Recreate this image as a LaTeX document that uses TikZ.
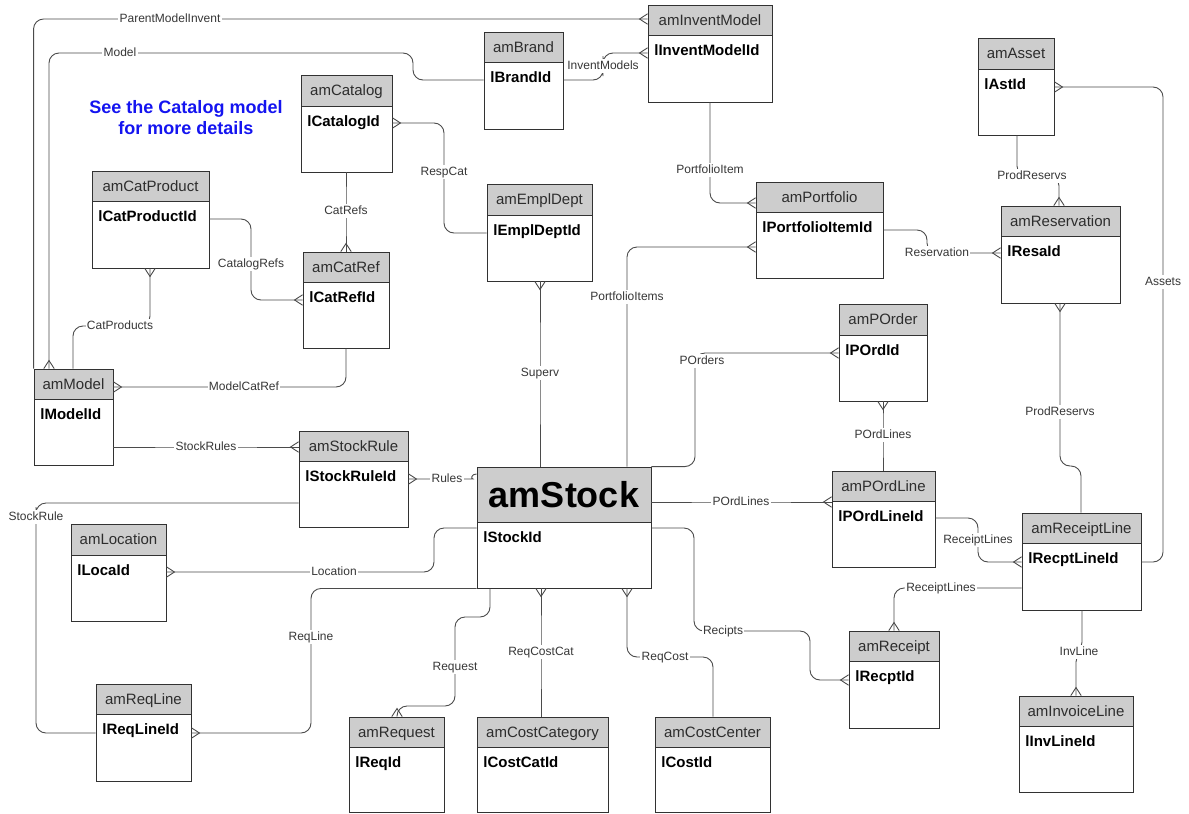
\documentclass[tikz,border=0pt]{standalone}
\usepackage{fontspec}
\setmainfont{Liberation Sans}
\usetikzlibrary{fit}
\definecolor{hdr}{RGB}{205,205,205}
\definecolor{boxc}{RGB}{50,50,50}
\definecolor{lnc}{RGB}{75,75,75}
\definecolor{lblc}{RGB}{55,55,55}
\definecolor{ttlc}{RGB}{45,45,45}
\definecolor{bluetxt}{RGB}{20,20,240}
\pgfdeclarearrow{
  name = Crow,
  setup code = {
    \pgfarrowssettipend{0pt}
    \pgfarrowssetlineend{0pt}
    \pgfarrowssetbackend{-4pt}
    \pgfarrowssetvisualbackend{-4pt}
    \pgfarrowshullpoint{0pt}{2.6pt}
    \pgfarrowshullpoint{0pt}{-2.6pt}
    \pgfarrowshullpoint{-4pt}{0pt}
  },
  drawing code = {
    \pgfpathmoveto{\pgfpoint{0pt}{2.6pt}}
    \pgfpathlineto{\pgfpoint{-4pt}{0pt}}
    \pgfpathlineto{\pgfpoint{0pt}{-2.6pt}}
    \pgfusepathqstroke
  }
}
\tikzset{
  ttl/.style={inner sep=0pt, text=ttlc, font=\fontsize{7.5}{9}\selectfont, text height=5.4pt, text depth=0pt},
  fld/.style={anchor=west, inner sep=0pt, text=black, font=\fontsize{7.5}{9}\selectfont\bfseries, text height=5.4pt, text depth=0pt},
  conn/.style={draw=lnc, line width=0.45pt, rounded corners=5pt},
  lbl/.style={fill=white, text=lblc, font=\fontsize{6}{7}\selectfont, inner xsep=0.6pt, inner ysep=0.6pt, text height=4.4pt, text depth=1.2pt, rounded corners=0pt}
}
\newcommand\ent[8][]{%
  \fill[hdr] (#3,#4) rectangle (#5,#7);
  \draw[boxc, line width=0.45pt] (#3,#7) -- (#5,#7);
  \node[fit={(#3,#4) (#5,#6)}, inner sep=0pt, draw=boxc, line width=0.45pt] (#2) {};
  \node[ttl,#1] (#2-t) at ({(#3+#5)/2},{(#4+#7)/2}) {#2};
  \node[fld] (#2-f) at (#3+6,#7+15) {#8};
}
\begin{document}
\begin{tikzpicture}[x=0.5pt,y=-0.5pt]
\useasboundingbox (0,0) rectangle (1189,814);
% entities
\ent{amInventModel}{648}{5}{772}{102}{35}{lInventModelId}
\ent{amBrand}{484}{32}{563}{129}{62}{lBrandId}
\ent{amCatalog}{301}{75}{392}{172}{106}{lCatalogId}
\ent{amCatProduct}{92}{171}{209}{268}{201}{lCatProductId}
\ent{amCatRef}{303}{252}{389}{348}{282}{lCatRefId}
\ent{amEmplDept}{487}{184}{592}{281}{215}{lEmplDeptId}
\ent{amPortfolio}{756}{182}{883}{278}{212}{lPortfolioItemId}
\ent{amAsset}{978}{38}{1054}{135}{69}{lAstId}
\ent{amReservation}{1001}{206}{1120}{303}{236}{lResaId}
\ent{amModel}{34}{369}{113}{465}{399}{lModelId}
\ent{amStockRule}{299}{431}{408}{527}{461}{lStockRuleId}
\ent[text height=12.9pt, text=black, font=\fontsize{18}{20}\selectfont\bfseries]{amStock}{477}{467}{651}{588}{522}{lStockId}
\ent{amPOrder}{839}{304}{927}{401}{335}{lPOrdId}
\ent{amPOrdLine}{832}{471}{935}{567}{501}{lPOrdLineId}
\ent{amReceiptLine}{1022}{513}{1141}{610}{543}{lRecptLineId}
\ent{amReceipt}{849}{631}{939}{728}{661}{lRecptId}
\ent{amInvoiceLine}{1019}{696}{1133}{792}{726}{lInvLineId}
\ent{amLocation}{71}{524}{166}{621}{555}{lLocaId}
\ent{amReqLine}{96}{684}{191}{781}{714}{lReqLineId}
\ent{amRequest}{349}{717}{444}{812}{747}{lReqId}
\ent{amCostCategory}{477}{717}{608}{812}{747}{lCostCatId}
\ent{amCostCenter}{655}{717}{770}{812}{747}{lCostId}
% note
\node[text=bluetxt, font=\fontsize{9}{10.5}\selectfont\bfseries, align=center] (note) at (186,117.5) {See the Catalog model\\for more details};
% connectors
\draw[conn, Crow-] (amInventModel.west |- 0,19) -- (170,19) node[lbl] (l1) {ParentModelInvent} -| (amModel.north west);
\draw[conn, -Crow] (amBrand.west |- 0,80) -| (413,53) -- (120,53) node[lbl] (l2) {Model} -| (amModel.north -| 49,0);
\draw[conn, -Crow] (amBrand.east |- 0,80) -| (603,66) node[lbl] (l3) {InventModels} |- (amInventModel.west |- 0,53);
\draw[conn, Crow-] (amCatalog.east |- 0,123) -| (444,172) node[lbl] (l4) {RespCat} |- (amEmplDept.west |- 0,233);
\draw[conn, -Crow] (amInventModel.south -| 710,0) -- (710,170) node[lbl] (l5) {PortfolioItem} |- (amPortfolio.west |- 0,203);
\draw[conn, -Crow] (amStock.north -| 627,0) -- (627,297) node[lbl] (l6) {PortfolioItems} |- (amPortfolio.west |- 0,247);
\draw[conn, -Crow] (amPortfolio.east |- 0,230) -| (927,253) -- (937,253) node[lbl] (l7) {Reservation} -- (amReservation.west |- 0,253);
\draw[conn, -Crow] (amAsset.south -| 1017,0) |- (1032,176) node[lbl] (l8) {ProdReservs} -| (amReservation.north -| 1059,0);
\draw[conn, Crow-] (amAsset.east |- 0,87) -| (1163,282) node[lbl] (l9) {Assets} |- (amReceiptLine.east |- 0,562);
\draw[conn, Crow-] (amReservation.south -| 1060,0) -- (1060,412) node[lbl] (l10) {ProdReservs} -- (1060,466) -| (amReceiptLine.north -| 1081,0);
\draw[conn, -Crow] (amCatalog.south -| 346,0) -- (346,211) node[lbl] (l11) {CatRefs} -- (amCatRef.north -| 346,0);
\draw[conn, -Crow] (amCatProduct.east |- 0,219) -| (251,264) node[lbl] (l12) {CatalogRefs} |- (amCatRef.west |- 0,300);
\draw[conn, Crow-] (amCatProduct.south -| 150,0) |- (120,326) node[lbl] (l13) {CatProducts} -| (amModel.north -| 73,0);
\draw[conn, Crow-] (amModel.east |- 0,387) -- (244,387) node[lbl] (l14) {ModelCatRef} -| (amCatRef.south -| 346,0);
\draw[conn, -Crow] (amModel.east |- 0,447) -- (206,447) node[lbl] (l15) {StockRules} -- (amStockRule.west |- 0,447);
\draw[conn, Crow-] (amStockRule.east |- 0,479) -- (447,479) node[lbl] (l16) {Rules} -- (463,479) .. controls (471,479) and (471,474) .. (amStock.west |- 0,474);
\draw[conn, Crow-] (amEmplDept.south -| 540,0) -- (540,373) node[lbl] (l17) {Superv} -- (amStock.north -| 540,0);
\draw[conn, -Crow] (amStock.north east) -| (695,353) -- (amPOrder.west |- 0,353);
\node[lbl] (l18) at (702,361) {POrders};
\draw[conn, Crow-] (amPOrder.south -| 883,0) -- (883,435) node[lbl] (l19) {POrdLines} -- (amPOrdLine.north -| 883,0);
\draw[conn, -Crow] (amStock.east |- 0,502) -- (741,502) node[lbl] (l20) {POrdLines} -- (amPOrdLine.west |- 0,502);
\draw[conn, -Crow] (amPOrdLine.east |- 0,518) -| (978,540) node[lbl] (l21) {ReceiptLines} |- (amReceiptLine.west |- 0,562);
\draw[conn, -Crow] (amReceiptLine.west |- 0,588) -- (941,588) node[lbl] (l22) {ReceiptLines} -| (amReceipt.north -| 894,0);
\draw[conn, -Crow] (amReceiptLine.south -| 1082,0) -- (1082,652) -- (1076,652) node[lbl, xshift=1.5pt] (l23) {InvLine} -- (amInvoiceLine.north -| 1076,0);
\draw[conn, -Crow] (amStock.east |- 0,528) -| (694,631) -- (723,631) node[lbl] (l24) {Recipts} -| (810,680) -- (amReceipt.west |- 0,680);
\draw[conn, Crow-] (amLocation.east |- 0,572) -- (334,572) node[lbl] (l25) {Location} -| (434,528) -- (amStock.west |- 0,528);
\draw[conn] (amStockRule.west |- 0,503) -| (36,517) node[lbl] (l26) {StockRule} |- (amReqLine.west |- 0,733);
\draw[conn, Crow-] (amReqLine.east |- 0,733) -| (311,637) node[lbl] (l27) {ReqLine} |- (amStock.south west);
\draw[conn, -Crow] (amStock.south -| 490,0) |- (455,617) -- (455,667) node[lbl] (l28) {Request} |- (397,706) -- (amRequest.north -| 397,0);
\draw[conn, Crow-] (amStock.south -| 541,0) -- (541,652) node[lbl] (l29) {ReqCostCat} -- (amCostCategory.north -| 541,0);
\draw[conn, Crow-] (amStock.south -| 627,0) |- (665,657) node[lbl] (l30) {ReqCost} -| (amCostCenter.north -| 713,0);
\end{tikzpicture}
\end{document}
